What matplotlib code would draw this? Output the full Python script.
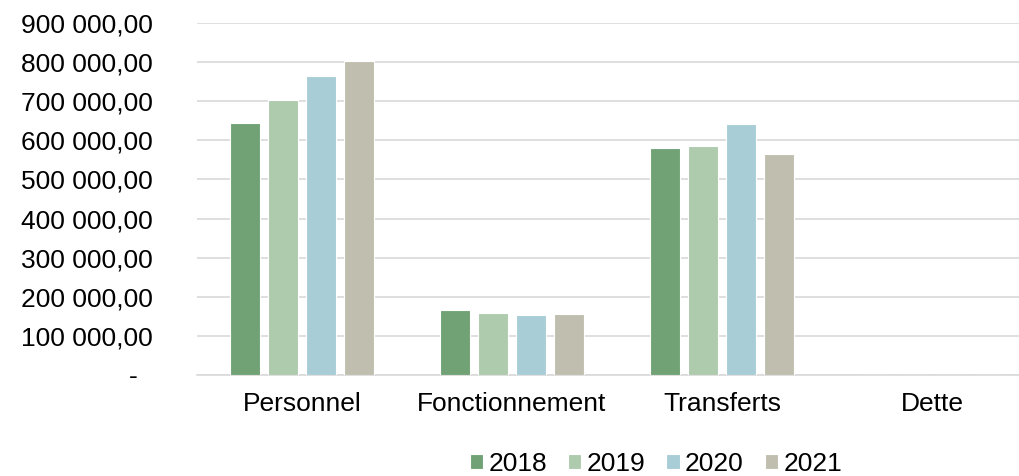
import matplotlib
matplotlib.use("Agg")
import matplotlib.pyplot as plt
import numpy as np
from matplotlib.ticker import FuncFormatter

# données
categories = ["Personnel", "Fonctionnement", "Transferts", "Dette"]
years = ["2018", "2019", "2020", "2021"]
v2018 = [645000, 166000, 581000, 0]
v2019 = [703000, 158000, 585000, 0]
v2020 = [765000, 153000, 641000, 0]
v2021 = [803000, 155000, 564000, 0]
colors = ["#71a275", "#afcbae", "#a9cdd6", "#c0bfaf"]

plt.rcParams["font.family"] = ["Liberation Sans", "DejaVu Sans"]

W, H = 1020, 476
fig = plt.figure(figsize=(W / 100, H / 100), dpi=100)
fig.patch.set_facecolor("white")
ax = fig.add_axes([197 / W, 1 - 375 / H, 840 / W, 352 / H])

x = np.arange(len(categories))
pitch = 0.181
width = 0.143
series = [v2018, v2019, v2020, v2021]
for i, (vals, lab, c) in enumerate(zip(series, years, colors)):
    ax.bar(x + (i - 1.5) * pitch, vals, width, color=c, label=lab,
           edgecolor="white", linewidth=0.8, zorder=3)

ax.set_xlim(-0.5, 3.5)
ax.set_ylim(0, 900000)
ax.set_yticks(np.arange(0, 900001, 100000))


def fmt(v, pos):
    if v == 0:
        return "-  "
    return f"{int(v):,}".replace(",", " ") + ",00"


ax.yaxis.set_major_formatter(FuncFormatter(fmt))
ax.set_xticks(x)
ax.set_xticklabels(categories)
ax.tick_params(axis="y", length=0, pad=32, labelsize=19, labelcolor="black")
ax.tick_params(axis="x", length=0, pad=12, labelsize=19, labelcolor="black")

ax.grid(axis="y", color="#d9d9d9", linewidth=1.2, zorder=0)
for s in ["top", "right", "left"]:
    ax.spines[s].set_visible(False)
ax.spines["bottom"].set_color("#d9d9d9")
ax.spines["bottom"].set_linewidth(1.2)

fig.legend(loc="center", bbox_to_anchor=(656 / W, 1 - 464 / H), ncol=4,
           frameon=False, fontsize=19, handlelength=0.5, handleheight=0.5,
           handletextpad=0.2, columnspacing=0.8, borderaxespad=0)

fig.savefig("out.png", dpi=100, facecolor="white")
